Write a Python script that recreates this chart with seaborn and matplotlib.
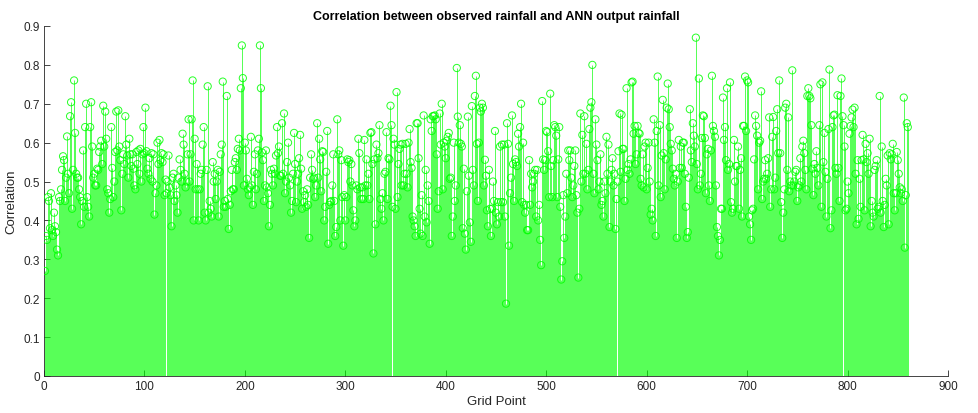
import numpy as np
import pandas as pd
import matplotlib
matplotlib.use("Agg")
import matplotlib.pyplot as plt
import seaborn as sns

title = "Correlation between observed rainfall and ANN output rainfall"
xlabel = "Grid Point"
ylabel = "Correlation"
xticks = [0, 100, 200, 300, 400, 500, 600, 700, 800, 900]
yticks = [0, 0.1, 0.2, 0.3, 0.4, 0.5, 0.6, 0.7, 0.8, 0.9]

corr_a = [0.27,0.36,0.35,0.46,0.45,0.38,0.47,0.375,0.36,0.42,
          0.385,0.37,0.325,0.31,0.46,0.45,0.48,0.53,0.565,0.555,
          0.45,0.51,0.616,0.52,0.47,0.668,0.704,0.43,0.53,0.76,
          0.625,0.52,0.51,0.51,0.48,0.46,0.39,0.45,0.58,0.435,
          0.64,0.70,0.46,0.435,0.41,0.64,0.704,0.59,0.51,0.52,
          0.49,0.49,0.533,0.53,0.576,0.59,0.605,0.545,0.695,0.59,
          0.68,0.61,0.48,0.47,0.42,0.455,0.64,0.535,0.46,0.50,
          0.576,0.68]
corr_b = [0.58,0.683,0.59,0.555,0.426,0.52,0.57,0.545,0.668,0.595,
          0.567,0.51,0.61,0.57,0.54,0.57,0.533,0.49,0.48,0.576,
          0.545,0.58,0.52,0.584,0.50,0.57,0.64,0.573,0.69,0.578,
          0.533,0.52,0.56,0.507,0.573,0.50,0.57,0.415,0.47,0.49,
          0.60,0.545,0.607,0.555,0.573,0.55,0.57,0.465,0.505,0.47,
          0.50,0.567,0.485,0.465,0.385,0.51,0.52,0.45,0.49,0.465,
          0.42,0.51,0.557,0.53,0.50,0.623,0.595,0.52,0.485,0.50,
          0.57,0.66]
corr_c = [0.50,0.57,0.66,0.76,0.40,0.61,0.48,0.545,0.48,0.40,
          0.48,0.52,0.53,0.595,0.64,0.42,0.40,0.53,0.745,0.42,
          0.45,0.43,0.41,0.55,0.50,0.52,0.455,0.50,0.53,0.41,
          0.525,0.57,0.595,0.757,0.435,0.45,0.435,0.72,0.455,0.378,
          0.44,0.475,0.53,0.48,0.48,0.55,0.56,0.53,0.584,0.61,
          0.58,0.74,0.85,0.766,0.49,0.60,0.58,0.507,0.48,0.465,
          0.485,0.615,0.49,0.44,0.525,0.57,0.48,0.52,0.58,0.61,
          0.85,0.74]
corr_d = [0.575,0.555,0.45,0.49,0.58,0.485,0.47,0.385,0.44,0.53,
          0.52,0.49,0.533,0.52,0.567,0.64,0.573,0.59,0.515,0.515,
          0.65,0.52,0.675,0.47,0.50,0.55,0.60,0.51,0.49,0.42,
          0.45,0.52,0.625,0.545,0.447,0.50,0.52,0.56,0.62,0.533,
          0.43,0.475,0.447,0.465,0.435,0.48,0.44,0.355,0.51,0.57,
          0.53,0.507,0.51,0.46,0.49,0.65,0.51,0.61,0.557,0.475,
          0.578,0.576,0.40,0.435,0.525,0.63,0.34,0.44,0.447,0.45,
          0.49,0.57]
corr_e = [0.45,0.36,0.383,0.66,0.57,0.58,0.40,0.555,0.46,0.335,
          0.465,0.40,0.46,0.557,0.55,0.555,0.50,0.545,0.49,0.426,
          0.385,0.40,0.49,0.48,0.61,0.573,0.485,0.455,0.485,0.455,
          0.607,0.49,0.557,0.49,0.52,0.455,0.625,0.627,0.545,0.315,
          0.557,0.39,0.595,0.56,0.573,0.645,0.455,0.43,0.47,0.40,
          0.52,0.525,0.627,0.455,0.56,0.557,0.695,0.645,0.435,0.61,
          0.595,0.43,0.73,0.46,0.545,0.584,0.595,0.49,0.597,0.49,
          0.52,0.597]
corr_f = [0.52,0.485,0.60,0.635,0.55,0.535,0.41,0.40,0.385,0.36,
          0.65,0.65,0.56,0.43,0.366,0.465,0.36,0.67,0.41,0.53,
          0.395,0.49,0.45,0.34,0.66,0.63,0.668,0.668,0.67,0.66,
          0.57,0.43,0.475,0.675,0.595,0.70,0.48,0.60,0.59,0.56,
          0.605,0.615,0.625,0.507,0.51,0.36,0.41,0.60,0.45,0.49,
          0.792,0.667,0.60,0.645,0.597,0.59,0.38,0.533,0.366,0.325,
          0.475,0.667,0.515,0.395,0.345,0.694,0.53,0.49,0.72,0.772,
          0.597,0.45]
corr_g = [0.60,0.69,0.68,0.70,0.69,0.49,0.556,0.515,0.426,0.385,
          0.53,0.43,0.36,0.43,0.50,0.45,0.63,0.42,0.39,0.447,
          0.41,0.59,0.447,0.595,0.447,0.595,0.41,0.186,0.65,0.597,
          0.335,0.47,0.51,0.67,0.545,0.45,0.557,0.55,0.54,0.623,
          0.59,0.64,0.70,0.447,0.60,0.44,0.42,0.44,0.375,0.375,
          0.555,0.44,0.52,0.485,0.50,0.52,0.53,0.41,0.53,0.40,
          0.44,0.35,0.285,0.707,0.557,0.53,0.555,0.63,0.627,0.578,
          0.46,0.726]
corr_h = [0.54,0.46,0.555,0.645,0.64,0.618,0.46,0.557,0.64,0.435,
          0.248,0.295,0.465,0.355,0.41,0.52,0.47,0.58,0.555,0.58,
          0.51,0.46,0.49,0.54,0.58,0.465,0.42,0.253,0.43,0.675,
          0.50,0.62,0.52,0.668,0.52,0.597,0.48,0.53,0.635,0.69,
          0.704,0.80,0.52,0.47,0.66,0.595,0.555,0.48,0.50,0.57,
          0.44,0.45,0.41,0.50,0.47,0.615,0.52,0.595,0.383,0.50,
          0.53,0.56,0.49,0.52,0.378,0.455,0.50,0.578,0.675,0.525,
          0.672,0.584]
corr_i = [0.584,0.45,0.507,0.74,0.53,0.545,0.52,0.557,0.755,0.757,
          0.623,0.643,0.545,0.57,0.643,0.625,0.623,0.507,0.49,0.57,
          0.485,0.59,0.60,0.48,0.535,0.60,0.50,0.415,0.43,0.40,
          0.66,0.60,0.36,0.63,0.77,0.49,0.645,0.46,0.567,0.71,
          0.573,0.48,0.557,0.69,0.752,0.686,0.64,0.597,0.58,0.533,
          0.507,0.49,0.52,0.355,0.50,0.607,0.535,0.59,0.535,0.60,
          0.60,0.52,0.435,0.355,0.37,0.51,0.686,0.58,0.55,0.65,
          0.618,0.59,0.87]
corr_j = [0.545,0.48,0.765,0.49,0.52,0.612,0.67,0.668,0.612,0.47,
          0.57,0.584,0.49,0.45,0.58,0.772,0.643,0.63,0.615,0.49,
          0.383,0.36,0.31,0.35,0.43,0.43,0.716,0.607,0.64,0.555,
          0.74,0.53,0.545,0.755,0.447,0.42,0.43,0.607,0.50,0.54,
          0.54,0.59,0.43,0.53,0.56,0.41,0.643,0.643,0.77,0.63,
          0.76,0.755,0.41,0.39,0.35,0.426,0.43,0.557,0.67,0.643,
          0.618,0.48,0.60,0.605,0.732,0.455,0.50,0.507,0.555]
corr_k = [0.507,0.52,0.56,0.665,0.435,0.48,0.615,0.666,0.48,0.51,
          0.63,0.686,0.573,0.76,0.573,0.447,0.355,0.42,0.48,0.69,
          0.70,0.53,0.665,0.475,0.50,0.49,0.786,0.49,0.50,0.525,
          0.53,0.45,0.485,0.49,0.56,0.50,0.59,0.605,0.573,0.53,
          0.48,0.72,0.74,0.72,0.714,0.645,0.533,0.465,0.545,0.52,
          0.578,0.535,0.49,0.645,0.75,0.435,0.755,0.55,0.625,0.525,
          0.41,0.507,0.635,0.788,0.38,0.426,0.64,0.67,0.672,0.535,
          0.52,0.722]
corr_l = [0.535,0.45,0.72,0.765,0.668,0.645,0.59,0.426,0.43,0.50,
          0.47,0.623,0.643,0.665,0.685,0.64,0.69,0.52,0.39,0.555,
          0.404,0.507,0.435,0.555,0.62,0.557,0.426,0.597,0.55,0.573,
          0.52,0.61,0.385,0.45,0.42,0.41,0.53,0.54,0.555,0.43,
          0.435,0.72,0.42,0.59,0.45,0.383,0.44,0.507,0.49,0.567,
          0.39,0.573,0.557,0.57,0.597,0.47,0.426,0.47,0.576,0.555,
          0.52,0.485,0.47,0.48,0.45,0.716,0.33,0.465,0.65,0.64]

corr = (corr_a + corr_b + corr_c + corr_d + corr_e + corr_f +
        corr_g + corr_h + corr_i + corr_j + corr_k + corr_l)
grid_point = list(range(1, len(corr) + 1))
df = pd.DataFrame({"grid": grid_point, "corr": corr})

sns.set_theme(style="white")
plt.rcParams["font.family"] = ["Liberation Sans", "DejaVu Sans"]

fig = plt.figure(figsize=(9.79, 4.14), dpi=100)
fig.patch.set_facecolor("white")
ax = fig.add_axes([0.0449, 0.0894, 0.9234, 0.8454])

green = "#00ff00"
ax.vlines(df["grid"], 0, df["corr"], colors=green, linewidth=0.55, alpha=0.85,
          zorder=2, antialiased=True)
sns.scatterplot(data=df, x="grid", y="corr", ax=ax, marker="o", s=27,
                facecolors="none", edgecolor=green, linewidth=0.7,
                alpha=0.85, legend=False, zorder=3)

ax.set_xlim(0, 900)
ax.set_ylim(0, 0.9)
ax.set_xticks(xticks)
ax.set_yticks(yticks)
ax.set_xticklabels([str(t) for t in xticks])
ax.set_yticklabels([f"{t:g}" for t in yticks])
ax.tick_params(axis="both", direction="in", length=4, width=0.6,
               labelsize=8.5, colors="#262626", top=False, right=False,
               bottom=True, left=True, pad=3)
for side in ["top", "right"]:
    ax.spines[side].set_visible(False)
for side in ["left", "bottom"]:
    ax.spines[side].set_color("#262626")
    ax.spines[side].set_linewidth(0.6)

ax.set_title(title, fontsize=9, fontweight="bold", color="black", pad=5)
ax.set_xlabel(xlabel, fontsize=9.5, color="#262626", labelpad=2)
ax.set_ylabel(ylabel, fontsize=9.5, color="#262626", labelpad=4)

fig.savefig("out.png", dpi=100, facecolor="white")
